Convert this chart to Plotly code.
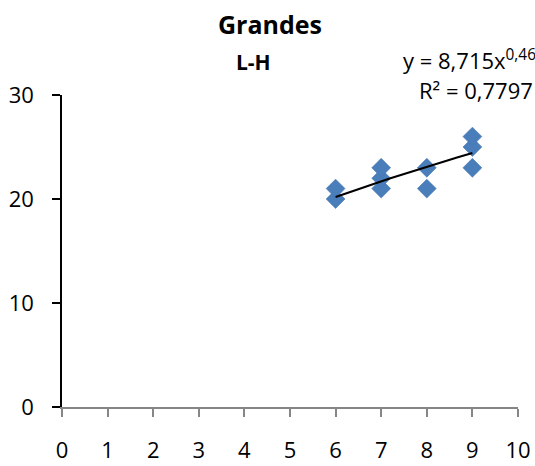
import numpy as np
import plotly.graph_objects as go

# Data
x_vals = [6, 6, 7, 7, 7, 8, 8, 9, 9, 9]
y_vals = [20, 21, 21, 22, 23, 21, 23, 23, 25, 26]

# Power trendline coefficients (y = a * x^b)
trend_a = 8.715
trend_b = 0.469
r_squared_text = "0,7797"

x_ticks = [0, 1, 2, 3, 4, 5, 6, 7, 8, 9, 10]
y_ticks = [0, 10, 20, 30]

title_text = "Grandes"
subtitle_text = "L-H"

FONT = "Open Sans"
BLUE = "#4a7ebb"

tx = np.linspace(min(x_vals), max(x_vals), 60)
ty = trend_a * tx ** trend_b

fig = go.Figure()
fig.add_trace(go.Scatter(
    x=x_vals, y=y_vals, mode="markers",
    marker=dict(symbol="diamond", size=14.5, color=BLUE,
                line=dict(width=0.6, color="#4575b0")),
    showlegend=False, hoverinfo="skip"))
fig.add_trace(go.Scatter(
    x=tx, y=ty, mode="lines",
    line=dict(color="black", width=2),
    showlegend=False, hoverinfo="skip"))

L, R, T, B = 62, 17, 95, 59
W, H = 535, 466
pw = W - L - R
ph = H - T - B

def px_x(p):
    return (p - L) / pw

def px_y(p):
    return 1 + (T - p) / ph

annotations = [
    dict(text="<b>%s</b>" % title_text, x=px_x(270), y=px_y(24),
         xref="paper", yref="paper", xanchor="center", yanchor="middle",
         showarrow=False, font=dict(family=FONT, size=25, color="black")),
    dict(text="<b>%s</b>" % subtitle_text, x=px_x(253), y=px_y(62),
         xref="paper", yref="paper", xanchor="center", yanchor="middle",
         showarrow=False, font=dict(family=FONT, size=21, color="black")),
    dict(text="y = 8,715x<sup>0,4690</sup>", x=px_x(401), y=px_y(60),
         xref="paper", yref="paper", xanchor="left", yanchor="middle",
         showarrow=False, font=dict(family=FONT, size=22, color="black")),
    dict(text="R² = %s" % r_squared_text, x=px_x(417), y=px_y(90),
         xref="paper", yref="paper", xanchor="left", yanchor="middle",
         showarrow=False, font=dict(family=FONT, size=22, color="black")),
]

fig.update_layout(
    width=W, height=H,
    margin=dict(l=L, r=R, t=T, b=B, autoexpand=False),
    paper_bgcolor="white", plot_bgcolor="white",
    font=dict(family=FONT, size=22, color="black"),
    annotations=annotations,
    xaxis=dict(range=[0, 10], tickvals=x_ticks, ticks="outside", ticklen=8,
               tickwidth=1.5, tickcolor="#868686", showline=True,
               linecolor="#868686", linewidth=1.5, showgrid=False,
               zeroline=False, ticklabelstandoff=15, automargin=False,
               tickfont=dict(family=FONT, size=22, color="black")),
    yaxis=dict(range=[0, 30], tickvals=y_ticks, ticks="outside", ticklen=8,
               tickwidth=1.5, tickcolor="black", showline=True,
               linecolor="black", linewidth=1.5, showgrid=False,
               zeroline=False, ticklabelstandoff=14, automargin=False,
               tickfont=dict(family=FONT, size=22, color="black")),
)

fig.write_html("out.html")
